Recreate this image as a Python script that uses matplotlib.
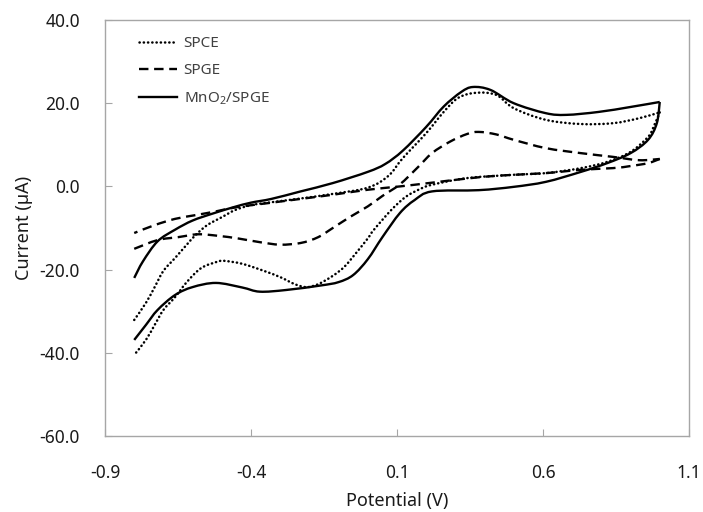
import matplotlib
matplotlib.use('Agg')
import matplotlib.pyplot as plt
import matplotlib.ticker as tick
from matplotlib.path import Path
from matplotlib.patches import PathPatch
from matplotlib.lines import Line2D
import numpy as np

plt.rcParams['font.family'] = ['Noto Sans', 'DejaVu Sans']
plt.rcParams['axes.unicode_minus'] = False
plt.rcParams['mathtext.fontset'] = 'custom'
plt.rcParams['mathtext.rm'] = 'Noto Sans'
plt.rcParams['mathtext.it'] = 'Noto Sans'

# Cyclic voltammograms, potential in V, current in uA.
# Each loop: forward scan (-0.8 -> 1.0) followed by the reverse scan (1.0 -> -0.8).
spce_v = [-0.80, -0.76, -0.73, -0.70, -0.66, -0.62, -0.59, -0.55, -0.50, -0.455,
          -0.40, -0.33, -0.23, -0.12, 0.00, 0.07, 0.12, 0.20, 0.26, 0.31,
          0.37, 0.44, 0.50, 0.61, 0.73, 0.84, 0.93, 1.00,
          0.98, 0.96, 0.90, 0.82, 0.73, 0.61, 0.50, 0.34, 0.22, 0.18,
          0.13, 0.08, 0.02, 0.00, -0.04, -0.08, -0.12, -0.17, -0.21, -0.25,
          -0.30, -0.36, -0.43, -0.49, -0.51, -0.57, -0.62, -0.66, -0.70, -0.73,
          -0.76, -0.80]
spce_i = [-32.1, -28.0, -24.2, -20.3, -17.2, -14.0, -11.7, -9.3, -7.4, -5.7,
          -4.5, -3.8, -2.9, -1.8, -0.3, 2.5, 6.8, 12.8, 17.9, 21.3,
          22.5, 22.0, 18.8, 16.0, 15.0, 15.2, 16.4, 17.8,
          14.5, 11.9, 8.3, 5.9, 4.4, 3.2, 2.8, 2.0, 0.4, -0.6,
          -2.5, -5.7, -10.5, -12.5, -16.0, -19.3, -21.5, -23.5, -24.2, -23.5,
          -21.8, -20.2, -18.6, -17.9, -18.0, -19.6, -23.0, -26.6, -29.7, -33.3,
          -36.9, -40.5]

spge_v = [-0.80, -0.72, -0.65, -0.58, -0.51, -0.445, -0.37, -0.30, -0.23, -0.17,
          -0.12, -0.06, 0.00, 0.05, 0.11, 0.17, 0.22, 0.28, 0.34, 0.38,
          0.44, 0.50, 0.61, 0.73, 0.84, 0.93, 1.00,
          0.96, 0.90, 0.84, 0.73, 0.61, 0.45, 0.34, 0.22, 0.11, 0.00,
          -0.12, -0.23, -0.34, -0.45, -0.52, -0.59, -0.66, -0.73, -0.80]
spge_i = [-15.0, -12.9, -12.2, -11.5, -11.9, -12.5, -13.4, -14.0, -13.6, -12.2,
          -10.0, -7.3, -4.8, -2.3, 0.5, 4.5, 8.0, 10.7, 12.6, 13.1,
          12.5, 11.2, 9.2, 8.0, 7.1, 6.3, 6.6,
          5.6, 4.9, 4.4, 4.0, 3.2, 2.6, 1.9, 0.9, 0.0, -0.8,
          -2.0, -3.0, -4.0, -5.0, -6.0, -6.9, -7.8, -9.3, -11.2]

mno2_v = [-0.80, -0.77, -0.72, -0.66, -0.60, -0.53, -0.46, -0.40, -0.33, -0.23,
          -0.12, 0.00, 0.06, 0.12, 0.20, 0.26, 0.32, 0.36, 0.42, 0.50,
          0.61, 0.68, 0.79, 0.90, 1.00,
          0.99, 0.96, 0.90, 0.82, 0.73, 0.61, 0.50, 0.38, 0.22, 0.16,
          0.11, 0.05, 0.00, -0.05, -0.10, -0.16, -0.28, -0.37, -0.43, -0.52,
          -0.60, -0.66, -0.72, -0.76, -0.80]
mno2_i = [-22.0, -18.0, -13.2, -10.4, -8.2, -6.5, -5.0, -3.9, -3.0, -1.2,
          0.8, 3.5, 5.4, 8.6, 14.3, 19.2, 22.7, 23.9, 23.2, 20.0,
          17.6, 17.2, 17.9, 19.1, 20.3,
          15.2, 11.2, 8.0, 5.6, 3.5, 1.1, -0.1, -0.9, -1.2, -3.3,
          -6.4, -12.2, -17.5, -21.3, -23.0, -23.8, -24.9, -25.3, -24.3, -23.2,
          -24.2, -26.1, -29.7, -33.3, -36.9]

x_ticks = [-0.9, -0.4, 0.1, 0.6, 1.1]
y_ticks = [-60, -40, -20, 0, 20, 40]

DOT = dict(color='black', lw=1.8, linestyle=(0, (0.1, 1.6)), capstyle='round')
DASH = dict(color='black', lw=1.7, linestyle=(0, (4.0, 2.4)), capstyle='butt')
SOLID = dict(color='black', lw=1.7, linestyle='-', capstyle='butt')


def smooth_path(xs, ys):
    # Catmull-Rom through the points, written as cubic Bezier segments
    p = np.column_stack([xs, ys]).astype(float)
    n = len(p)
    verts = [p[0]]
    codes = [Path.MOVETO]
    for i in range(n - 1):
        a = p[i - 1] if i > 0 else p[i]
        d = p[i + 2] if i + 2 < n else p[i + 1]
        verts += [p[i] + (p[i + 1] - a) / 6, p[i + 1] - (d - p[i]) / 6, p[i + 1]]
        codes += [Path.CURVE4] * 3
    return Path(verts, codes)


def draw_loop(ax, v, i, style):
    # split at the switching potential so the turn stays sharp
    k = int(np.argmax(v))
    for seg in (slice(0, k + 1), slice(k, None)):
        patch = PathPatch(smooth_path(v[seg], i[seg]), fill=False,
                          edgecolor=style['color'], lw=style['lw'],
                          linestyle=style['linestyle'], capstyle=style['capstyle'],
                          joinstyle='round')
        ax.add_patch(patch)


fig = plt.figure(figsize=(7.03, 5.12), dpi=100)
ax = fig.add_axes([0.1494, 0.1484, 0.8306, 0.8125])

draw_loop(ax, spce_v, spce_i, DOT)
draw_loop(ax, spge_v, spge_i, DASH)
draw_loop(ax, mno2_v, mno2_i, SOLID)

ax.set_xlim(-0.9, 1.1)
ax.set_ylim(-60, 40)
ax.set_xticks(x_ticks)
ax.set_yticks(y_ticks)
ax.xaxis.set_major_formatter(tick.FormatStrFormatter('%.1f'))
ax.yaxis.set_major_formatter(tick.FormatStrFormatter('%.1f'))
ax.tick_params(axis='both', direction='in', length=5, width=0.8,
               color='#a6a6a6', labelsize=12.5, labelcolor='#1a1a1a')
ax.tick_params(axis='x', pad=20)
ax.tick_params(axis='y', pad=18)
for s in ax.spines.values():
    s.set_color('#a6a6a6')
    s.set_linewidth(1.0)

ax.set_xlabel('Potential (V)', fontsize=13, color='#1a1a1a', labelpad=7)
ax.set_ylabel('Current (\u00b5A)', fontsize=13, color='#1a1a1a', labelpad=5)

handles = [
    Line2D([], [], color='black', lw=DOT['lw'], linestyle=DOT['linestyle'],
           dash_capstyle='round'),
    Line2D([], [], color='black', lw=DASH['lw'], linestyle=DASH['linestyle']),
    Line2D([], [], color='black', lw=SOLID['lw']),
]
labels = ['SPCE', 'SPGE', 'MnO$_2$/SPGE']
leg = ax.legend(handles, labels, loc='upper left', bbox_to_anchor=(0.035, 0.995),
                frameon=False, fontsize=11, handlelength=2.5, handletextpad=0.4,
                labelspacing=0.8)
for t in leg.get_texts():
    t.set_color('#404040')

fig.savefig('out.png', dpi=100)
